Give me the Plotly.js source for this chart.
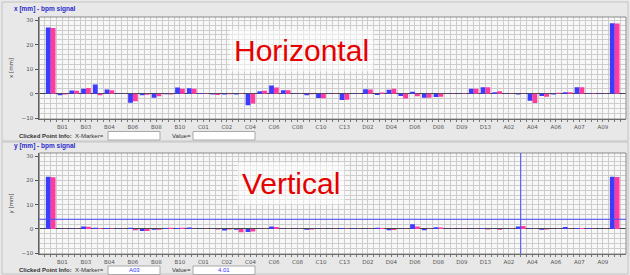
<!DOCTYPE html>
<html>
<head>
<meta charset="utf-8">
<script src="https://cdn.plot.ly/plotly-3.0.1.min.js"></script>
<style>html,body{margin:0;padding:0;background:#e8e8e8;}#chart{width:630px;height:275px;}</style>
</head>
<body>
<div id="chart"></div>
<script>
// ---- data ----
const categories = ["B00","B01","B02","B03","B03A","B04","B05","B06","B07","B08","B09","B10","B11",
  "C01","C01A","C02","C03","C04","C05","C06","C07","C08","C09","C10","C11","C13",
  "D01","D02","D03","D04","D05","D06","D07","D08","D08A","D09","D11","D13",
  "A01","A02","A03","A04","A05","A06","A06A","A07","A08","A09","A10"];
const tickLabels = ["B01","B03","B04","B06","B08","B10","C01","C02","C04","C06","C08","C10","C13",
  "D02","D04","D06","D08","D09","D13","A02","A04","A06","A07","A09"];
const horizBlue = [27.0,-0.6,1.3,2.0,3.8,1.7,0.2,-3.7,-0.6,-1.6,-0.2,2.5,2.2,
  0.3,-0.3,-0.3,-0.3,-4.7,1.0,3.4,1.4,0.1,-0.6,-1.7,0.1,-2.5,
  0.2,1.8,-0.5,1.6,-0.9,0.8,-1.6,-1.3,0.1,0.1,2.0,2.6,
  0.6,0.1,-0.3,-2.9,-0.9,-0.3,0.6,2.6,0.2,0.2,28.8];
const horizPink = [26.8,-0.3,1.2,2.3,-0.6,1.4,0.1,-3.1,-0.4,-1.0,-0.3,2.0,2.0,
  0.2,-0.5,-0.2,0.2,-4.0,1.2,2.5,1.4,0.1,-0.2,-1.8,0.1,-2.4,
  0.1,1.7,0.5,2.0,-1.9,-1.0,-1.6,-1.2,0.1,0.2,2.0,2.6,
  1.0,0.1,0.1,-3.8,-1.2,0.4,0.6,2.6,0.2,0.1,28.6];
const vertBlue = [21.5,0.1,0.2,1.0,0.5,0.4,0.2,0.5,-0.8,-0.3,0.3,0.4,0.6,
  0.1,0.1,-0.6,-0.3,-1.2,0.1,1.0,0.1,0.1,-0.3,0.1,0.1,0.3,
  0.2,0.1,0.5,-0.5,0.1,2.0,-0.5,0.7,0.1,0.1,0.1,0.3,
  0.1,0.1,1.0,0.2,-0.3,0.1,0.8,0.4,0.3,0.1,21.5];
const vertPink = [21.3,0.1,0.1,0.9,0.3,0.2,0.1,-0.5,-0.8,-0.3,0.5,0.5,0.1,
  0.1,-0.2,-0.2,-1.3,-1.0,0.1,0.8,0.1,0.1,-0.2,0.1,0.1,0.2,
  0.1,0.1,0.4,-0.4,0.1,1.0,0.1,0.6,0.1,0.1,0.1,-0.2,
  -0.3,0.1,1.2,0.1,-0.2,0.1,0.1,0.4,0.1,0.1,21.4];
const markerName = "A03";
const markerValue = 4.01;

// ---- layout helpers (pixel -> paper) ----
const W = 630, H = 275;
const px = v => v / W;
const py = v => 1 - v / H;

const BLUE = '#3c3cff', PINK = '#ff3c9e';
const GRID = '#cdcdcd';
const XR = [-0.97, 48.96];
const YR = [-10.3, 31.3];
const xDom = [px(39.3), px(626)];

function bars(y, color, xa, ya, name) {
  return {type: 'bar', x: categories, y: y, marker: {color: color, line: {width: 0}},
          xaxis: xa, yaxis: ya, name: name, hoverinfo: 'x+y'};
}
const traces = [
  bars(horizBlue, BLUE, 'x', 'y', 'x blue'),
  bars(horizPink, PINK, 'x', 'y', 'x pink'),
  bars(vertBlue, BLUE, 'x2', 'y2', 'y blue'),
  bars(vertPink, PINK, 'x2', 'y2', 'y pink'),
  {type: 'scatter', x: [], y: [], xaxis: 'x3', yaxis: 'y', hoverinfo: 'skip', showlegend: false},
  {type: 'scatter', x: [], y: [], xaxis: 'x4', yaxis: 'y2', hoverinfo: 'skip', showlegend: false}
];

const tickFont = {family: 'DejaVu Sans', size: 5.5, color: '#555'};
function catAxis(anchor) {
  return {type: 'category', domain: xDom, anchor: anchor, range: XR, fixedrange: true,
    tickmode: 'array', tickvals: tickLabels, ticktext: tickLabels, tickfont: tickFont,
    ticks: 'outside', ticklen: 2, tickcolor: '#555', ticklabelstandoff: 0,
    showgrid: false, showline: true, linecolor: '#555', linewidth: 1, zeroline: false};
}
function gridAxis(over, anchor) {
  return {type: 'linear', overlaying: over, anchor: anchor, domain: xDom, range: XR,
    tick0: 0, dtick: 0.5, showticklabels: false, ticks: 'outside', ticklen: 1.5, tickcolor: '#777',
    showgrid: true, gridcolor: GRID, gridwidth: 1, zeroline: false, showline: false, fixedrange: true};
}
function valAxis(dom, anchor, title) {
  return {domain: dom, anchor: anchor, range: YR, tick0: 0, dtick: 10, tickfont: tickFont,
    ticks: 'outside', ticklen: 3, tickcolor: '#555', ticklabelstandoff: 1,
    showline: true, linecolor: '#555', linewidth: 1,
    showgrid: true, gridcolor: GRID, gridwidth: 1,
    minor: {dtick: 2, showgrid: true, gridcolor: GRID, gridwidth: 1, ticks: ''},
    zeroline: true, zerolinecolor: '#444', zerolinewidth: 1, fixedrange: true,
    title: {text: title, font: {family: 'DejaVu Sans', size: 5.5, color: '#444'}, standoff: 7}};
}

const labelFont = {family: 'Liberation Sans', size: 6, color: '#333'};
function ann(text, x, y, font, extra) {
  return Object.assign({text: text, xref: 'paper', yref: 'paper', x: px(x), y: py(y),
    showarrow: false, font: font, xanchor: 'left', yanchor: 'middle'}, extra || {});
}
function box(x0, x1, y0, y1) {
  return {type: 'rect', xref: 'paper', yref: 'paper', x0: px(x0), x1: px(x1), y0: py(y0), y1: py(y1),
    fillcolor: '#ffffff', line: {color: '#a8a8a8', width: 1}, layer: 'below'};
}
function frame(xr, yr) {
  return {type: 'rect', xref: xr + ' domain', yref: yr + ' domain', x0: 0, x1: 1, y0: 0, y1: 1,
    line: {color: '#8a8a8a', width: 1}, fillcolor: 'rgba(0,0,0,0)', layer: 'above'};
}

const layout = {
  width: W, height: H, margin: {l: 0, r: 0, t: 0, b: 0},
  paper_bgcolor: '#e8e8e8', plot_bgcolor: '#f8f8f8',
  showlegend: false, barmode: 'group', bargap: 0.18, bargroupgap: 0,
  xaxis: catAxis('y'),
  xaxis2: catAxis('y2'),
  xaxis3: gridAxis('x', 'y'),
  xaxis4: gridAxis('x2', 'y2'),
  yaxis: valAxis([py(119), py(17)], 'x', 'x [mm]'),
  yaxis2: valAxis([py(254), py(153)], 'x2', 'y [mm]'),
  shapes: [
    {type: 'rect', xref: 'paper', yref: 'paper', x0: px(2), x1: px(628), y0: py(141), y1: py(2),
      line: {color: '#c4c4c4', width: 1}, fillcolor: 'rgba(0,0,0,0)', layer: 'below'},
    {type: 'rect', xref: 'paper', yref: 'paper', x0: px(2), x1: px(628), y0: py(274), y1: py(142),
      line: {color: '#c4c4c4', width: 1}, fillcolor: 'rgba(0,0,0,0)', layer: 'below'},
    box(108, 160, 131.5, 140), box(193, 255, 131.5, 140),
    box(108, 160, 266, 274.5), box(193, 255, 266, 274.5),
    frame('x', 'y'), frame('x2', 'y2'),
    {type: 'line', xref: 'x2', yref: 'y2 domain', x0: markerName, x1: markerName, y0: 0, y1: 1,
      line: {color: '#4a4aff', width: 1}, layer: 'above'},
    {type: 'line', xref: 'x2 domain', yref: 'y2', x0: 0, x1: 1, y0: markerValue, y1: markerValue,
      line: {color: '#4a4aff', width: 1}, layer: 'above'}
  ],
  annotations: [
    ann('x [mm] - bpm signal', 12, 9, {family: 'Liberation Sans', size: 6.5, color: '#2a2acc', weight: 'bold'}),
    ann('y [mm] - bpm signal', 12, 146, {family: 'Liberation Sans', size: 6.5, color: '#2a2acc', weight: 'bold'}),
    ann('<b>Clicked Point Info:</b>  X-Marker=', 17, 135.5, labelFont),
    ann('Value=', 170, 135.5, labelFont),
    ann('<b>Clicked Point Info:</b>  X-Marker=', 17, 270, labelFont),
    ann('Value=', 170, 270, labelFont),
    ann(markerName, 134, 270, {family: 'Liberation Sans', size: 6, color: '#3333ff'}, {xanchor: 'center'}),
    ann(markerValue.toFixed(2), 224, 270, {family: 'Liberation Sans', size: 6, color: '#3333ff'}, {xanchor: 'center'}),
    ann('Horizontal', 301, 50.5, {family: 'Liberation Sans', size: 30, color: '#e60000'},
      {xanchor: 'center', bgcolor: 'rgba(255,255,255,0.55)', borderpad: 4}),
    ann('Vertical', 291, 183, {family: 'Liberation Sans', size: 30, color: '#e60000'},
      {xanchor: 'center', bgcolor: 'rgba(255,255,255,0.55)', borderpad: 4})
  ]
};

Plotly.newPlot('chart', traces, layout, {staticPlot: true, displayModeBar: false});
</script>
</body>
</html>
